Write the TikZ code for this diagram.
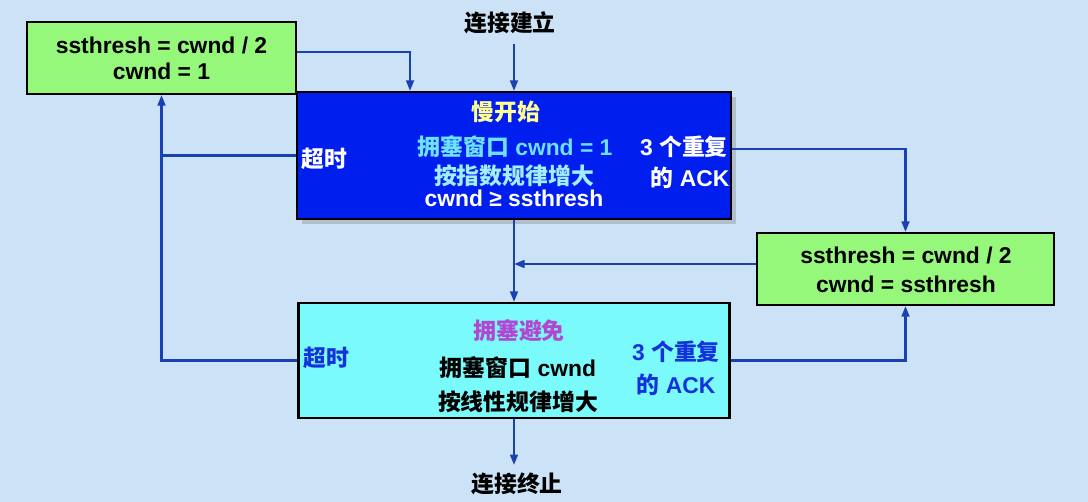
\documentclass[tikz,border=0pt]{standalone}
\usepackage{fontspec}
\setmainfont{Liberation Sans}
\newfontfamily\cjk{Noto Sans CJK SC}
\usepackage{tikz}
\usetikzlibrary{arrows.meta}
\usetikzlibrary{shadows}
\definecolor{hinter}{RGB}{204,226,246}
\definecolor{gruen}{RGB}{150,248,122}
\definecolor{blau}{RGB}{0,30,238}
\definecolor{tuerkis}{RGB}{122,250,250}
\definecolor{linie}{RGB}{25,65,178}
\definecolor{hellgelb}{RGB}{255,255,150}
\definecolor{hellcyan}{RGB}{110,225,255}
\definecolor{blasscyan}{RGB}{160,238,255}
\definecolor{lila}{RGB}{178,70,210}
\definecolor{textblau}{RGB}{20,50,220}
\tikzset{kasten/.style={draw=black,line width=1.2pt,inner sep=0pt}}
\tikzset{txt/.style={font=\fontsize{13}{15}\selectfont\bfseries,inner sep=2pt,align=center}}
\tikzset{pfeil/.style={draw=linie,line width=1.3pt,-{Triangle[length=6pt,width=4.4pt]}}}
\tikzset{lin/.style={draw=linie,line width=1.3pt}}

\begin{document}
\begin{tikzpicture}[x=0.02cm,y=0.02cm]
	
	\fill[hinter] (0,0) rectangle (1088,502);
	\useasboundingbox (0,0) rectangle (1088,502);
	
	% Kaesten
	\node[kasten,fill=gruen,minimum width=5.38cm,minimum height=1.44cm](gruen1) at (161.5,444){};
	\node[kasten,fill=blau,minimum width=8.68cm,minimum height=2.54cm,
		drop shadow={shadow xshift=3pt,shadow yshift=-3pt,opacity=0.35}](langsam) at (514,346.5){};
	\node[kasten,fill=gruen,minimum width=5.94cm,minimum height=1.44cm](gruen2) at (905.5,233){};
	\node[kasten,fill=tuerkis,minimum width=8.62cm,minimum height=2.30cm](vermeid) at (514,141.5){};
	
	% Texte
	\node[txt](aufbau) at (510,479){\cjk 连接建立};
	\node[txt](ende) at (517,18){\cjk 连接终止};
	\node[txt](g1a) at (161.5,457){ssthresh = cwnd / 2};
	\node[txt](g1b) at (161.5,431){cwnd = 1};
	\node[txt](g2a) at (906,247){ssthresh = cwnd / 2};
	\node[txt](g2b) at (906,218){cwnd = ssthresh};
	
	\node[txt,text=hellgelb](ls1) at (506,390){\cjk 慢开始};
	\node[txt,text=hellcyan](ls2) at (515,355){{\cjk 拥塞窗口} cwnd = 1};
	\node[txt,text=blasscyan](ls3) at (514,326){\cjk 按指数规律增大};
	\node[txt,text=white](ls4) at (514,304){cwnd ≥ ssthresh};
	\node[txt,text=white](ls5) at (324,343){\cjk 超时};
	\node[txt,text=white](ls6) at (684,355){3 {\cjk 个重复}};
	\node[txt,text=white](ls7) at (690,324){{\cjk 的} ACK};
	
	\node[txt,text=lila](vm1) at (519,171){\cjk 拥塞避免};
	\node[txt,text=black](vm2) at (518,134){{\cjk 拥塞窗口} cwnd};
	\node[txt,text=black](vm3) at (518,100){\cjk 按线性规律增大};
	\node[txt,text=textblau](vm4) at (326,144){\cjk 超时};
	\node[txt,text=textblau](vm5) at (676,150){3 {\cjk 个重复}};
	\node[txt,text=textblau](vm6) at (676,117){{\cjk 的} ACK};
	
	% Verbindungen
	\coordinate (g1r) at ([yshift=0.12cm]gruen1.east);
	\coordinate (lsr) at ([yshift=0.13cm]langsam.east);
	\coordinate (g2l) at ([yshift=0.1cm]gruen2.west);
	\draw[pfeil,shorten <=0.11cm] (aufbau.south -| langsam.north) -- (langsam.north);
	\draw[pfeil] (g1r) -| ([xshift=-2.08cm]langsam.north);
	\draw[pfeil] (vermeid.west) -| (gruen1.south);
	\draw[lin] (langsam.west) -- (langsam.west -| gruen1.south);
	\draw[pfeil] (lsr) -| (gruen2.north);
	\draw[pfeil] (langsam.south) -- (vermeid.north);
	\draw[pfeil] (g2l) -- (g2l -| langsam.south);
	\draw[pfeil] (vermeid.east) -| (gruen2.south);
	\draw[pfeil,shorten >=0.08cm] (vermeid.south) -- (vermeid.south |- ende.north);
	
\end{tikzpicture}
\end{document}
